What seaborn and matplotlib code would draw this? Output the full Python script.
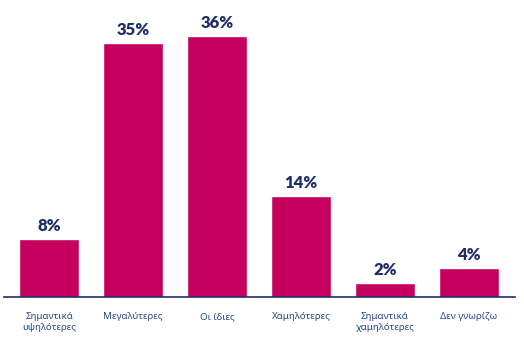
import matplotlib
matplotlib.use("Agg")
import matplotlib.pyplot as plt
import seaborn as sns
import pandas as pd

categories = ["Σημαντικά\nυψηλότερες", "Μεγαλύτερες", "Οι ίδιες", "Χαμηλότερες",
              "Σημαντικά\nχαμηλότερες", "Δεν γνωρίζω"]
values = [8, 35, 36, 14, 2, 4]
value_labels = ["8%", "35%", "36%", "14%", "2%", "4%"]

BAR = "#c6005e"
NAVY = "#1d2e6b"
TICK = "#2b4a8c"

sns.set_style("white")
plt.rcParams["font.family"] = ["Noto Sans", "DejaVu Sans"]

fig = plt.figure(figsize=(5.24, 3.55), dpi=100)
ax = fig.add_axes([4/524, 58/355, 511/524, 290/355])

df = pd.DataFrame({"cat": categories, "val": values})
sns.barplot(data=df, x="cat", y="val", color=BAR, saturation=1, width=0.714, ax=ax)

for i, (v, lab) in enumerate(zip(values, value_labels)):
    ax.annotate(lab, (i, v), xytext=(0, 3.5), textcoords="offset points",
                ha="center", va="bottom", fontsize=12, fontweight="heavy", color=NAVY,
                family=["Lato", "DejaVu Sans"])

ax.set_xlim(-0.536, 5.548)
ax.set_ylim(0, 40)
ax.set_xlabel("")
ax.set_ylabel("")
ax.set_yticks([])
for s in ["top", "right", "left"]:
    ax.spines[s].set_visible(False)
ax.spines["bottom"].set_color(NAVY)
ax.spines["bottom"].set_linewidth(1.2)
ax.tick_params(axis="x", length=0, pad=11, labelsize=7, labelcolor=TICK)
for t in ax.get_xticklabels():
    t.set_linespacing(1.3)

fig.savefig("out.png", dpi=100, facecolor="white")
